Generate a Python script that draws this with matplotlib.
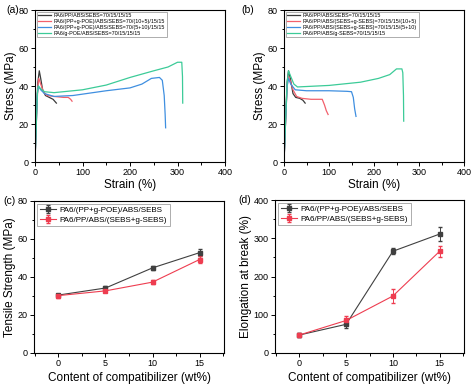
import numpy as np
import matplotlib.pyplot as plt
from matplotlib.ticker import MultipleLocator

plt.rcParams['font.family'] = ['Liberation Sans', 'DejaVu Sans']

#%% (a) stress-strain, PP/g-POE series
a_labels = ['PA6/PP/ABS/SEBS=70/15/15/15',
            'PA6/(PP+g-POE)/ABS/SEBS=70/(10+5)/15/15',
            'PA6/(PP+g-POE)/ABS/SEBS=70/(5+10)/15/15',
            'PA6/g-POE/ABS/SEBS=70/15/15/15']
a_strain = [[0, 3, 6, 9, 12, 16, 22, 30, 38, 45],
            [0, 3, 6, 8, 12, 18, 25, 40, 60, 70, 75, 78],
            [0, 3, 5, 7, 12, 20, 40, 80, 150, 200, 225, 245, 262, 268, 272, 274, 275],
            [0, 3, 5, 7, 12, 20, 40, 100, 150, 200, 250, 280, 300, 309, 310.5, 311]]
a_stress = [[0, 25, 42, 48, 44, 38, 35, 34, 33, 31],
            [0, 22, 40, 44, 41, 37, 35, 34.5, 34, 34, 33, 32],
            [0, 22, 36, 40, 38, 36, 34.5, 35, 37.5, 39, 41, 44, 44.5, 43, 35, 25, 18],
            [0, 22, 36, 40, 38.5, 37, 36.5, 38, 40.5, 44.5, 48, 50, 52.5, 52.5, 45, 31]]

#%% (b) stress-strain, SEBS/g-SEBS series
b_labels = ['PA6/PP/ABS/SEBS=70/15/15/15',
            'PA6/PP/ABS/(SEBS+g-SEBS)=70/15/15/(10+5)',
            'PA6/PP/ABS/(SEBS+g-SEBS)=70/15/15/(5+10)',
            'PA6/PP/ABS/g-SEBS=70/15/15/15']
b_strain = [[0, 4, 7, 10, 14, 20, 26, 35, 42, 47],
            [0, 4, 7, 10, 15, 20, 28, 40, 60, 85, 90, 94, 98],
            [0, 4, 7, 10, 15, 25, 50, 100, 140, 150, 154, 157, 160],
            [0, 4, 7, 10, 15, 22, 30, 100, 170, 210, 235, 250, 262, 264, 265.5, 266]]
b_stress = [[0, 25, 42, 48, 44, 36, 34, 33.5, 32.5, 31],
            [0, 24, 40, 45, 42, 38, 34.5, 33.5, 33, 33, 30, 27, 25],
            [0, 24, 40, 44, 41, 38, 37.5, 37.5, 37.2, 37, 34, 28, 24],
            [0, 25, 42, 48, 45, 41, 39.5, 40.3, 42, 44, 46, 49, 49, 47, 35, 21.5]]

colors = ['#3a3a3a', '#f2606c', '#3f8fe0', '#3ccb98']

#%% (c), (d) vs compatibilizer content
content = [0, 5, 10, 15]
cd_labels = ['PA6/(PP+g-POE)/ABS/SEBS', 'PA6/PP/ABS/(SEBS+g-SEBS)']
ts_poe = [30.5, 34.2, 44.8, 52.8]
ts_poe_err = [0.8, 0.9, 1.2, 1.8]
ts_sebs = [30.2, 32.7, 37.3, 49.2]
ts_sebs_err = [1.0, 0.6, 0.9, 1.9]
eb_poe = [47, 75, 266, 311]
eb_poe_err = [4, 10, 8, 18]
eb_sebs = [47, 85, 149, 266]
eb_sebs_err = [5, 12, 18, 14]

#%%
fig = plt.figure(figsize=(4.74, 3.87), dpi=100)
W, H = 474, 387


def box(l, t, r, b):
    return fig.add_axes([l / W, 1 - b / H, (r - l) / W, (b - t) / H])


def style(ax):
    ax.tick_params(which='both', direction='out', labelsize=6.5, width=0.7)
    ax.tick_params(which='major', length=3, pad=1.5)
    ax.tick_params(which='minor', length=1.8)
    for s in ax.spines.values():
        s.set_linewidth(0.8)


axa = box(35, 10, 225, 162)
axb = box(284, 10, 464, 162)
axc = box(34, 201, 224, 353)
axd = box(275, 200, 464, 353)

for ax, xs, ys, labs in [(axa, a_strain, a_stress, a_labels),
                         (axb, b_strain, b_stress, b_labels)]:
    for x, y, c, lab in zip(xs, ys, colors, labs):
        ax.plot(x, y, color=c, lw=0.9, label=lab)
    ax.set_xlim(0, 400)
    ax.set_ylim(0, 80)
    ax.xaxis.set_major_locator(MultipleLocator(100))
    ax.xaxis.set_minor_locator(MultipleLocator(50))
    ax.yaxis.set_major_locator(MultipleLocator(20))
    ax.yaxis.set_minor_locator(MultipleLocator(10))
    ax.set_xlabel('Strain (%)', fontsize=8.5, labelpad=1)
    ax.set_ylabel('Stress (MPa)', fontsize=8.5, labelpad=1)
    style(ax)
    leg = ax.legend(loc='upper left', fontsize=3.9, frameon=True, fancybox=False,
                    edgecolor='#888888', handlelength=2.4, borderpad=0.3,
                    labelspacing=0.15, handletextpad=0.5, borderaxespad=0.3)
    leg.get_frame().set_linewidth(0.6)

for ax, y1, e1, y2, e2, ylab, ymax, step in [
        (axc, ts_poe, ts_poe_err, ts_sebs, ts_sebs_err, 'Tensile Strength (MPa)', 80, 20),
        (axd, eb_poe, eb_poe_err, eb_sebs, eb_sebs_err, 'Elongation at break (%)', 400, 100)]:
    ax.errorbar(content, y1, yerr=e1, color='#404040', marker='s', ms=3, lw=0.8,
                elinewidth=0.7, capsize=1.5, label=cd_labels[0])
    ax.errorbar(content, y2, yerr=e2, color='#ee3d50', marker='s', ms=3, lw=0.8,
                elinewidth=0.7, capsize=1.5, label=cd_labels[1])
    ax.set_xlim(-2.6, 17.6)
    ax.set_ylim(0, ymax)
    ax.xaxis.set_major_locator(MultipleLocator(5))
    ax.xaxis.set_minor_locator(MultipleLocator(2.5))
    ax.yaxis.set_major_locator(MultipleLocator(step))
    ax.yaxis.set_minor_locator(MultipleLocator(step / 2))
    ax.set_xlabel('Content of compatibilizer (wt%)', fontsize=8.5, labelpad=3)
    ax.set_ylabel(ylab, fontsize=8.5, labelpad=1)
    style(ax)
    leg = ax.legend(loc='upper left', fontsize=5.8, frameon=True, fancybox=False,
                    edgecolor='#888888', handlelength=2.0, borderpad=0.3,
                    labelspacing=0.2, handletextpad=0.5, borderaxespad=0.4)
    leg.get_frame().set_linewidth(0.6)

# panel tags
for tag, px, py in [('(a)', 6, 10), ('(b)', 241, 10), ('(c)', 3, 201), ('(d)', 238, 200)]:
    fig.text(px / W, 1 - py / H, tag, fontsize=7.5, va='center', ha='left')

fig.savefig('out.png', dpi=100)
